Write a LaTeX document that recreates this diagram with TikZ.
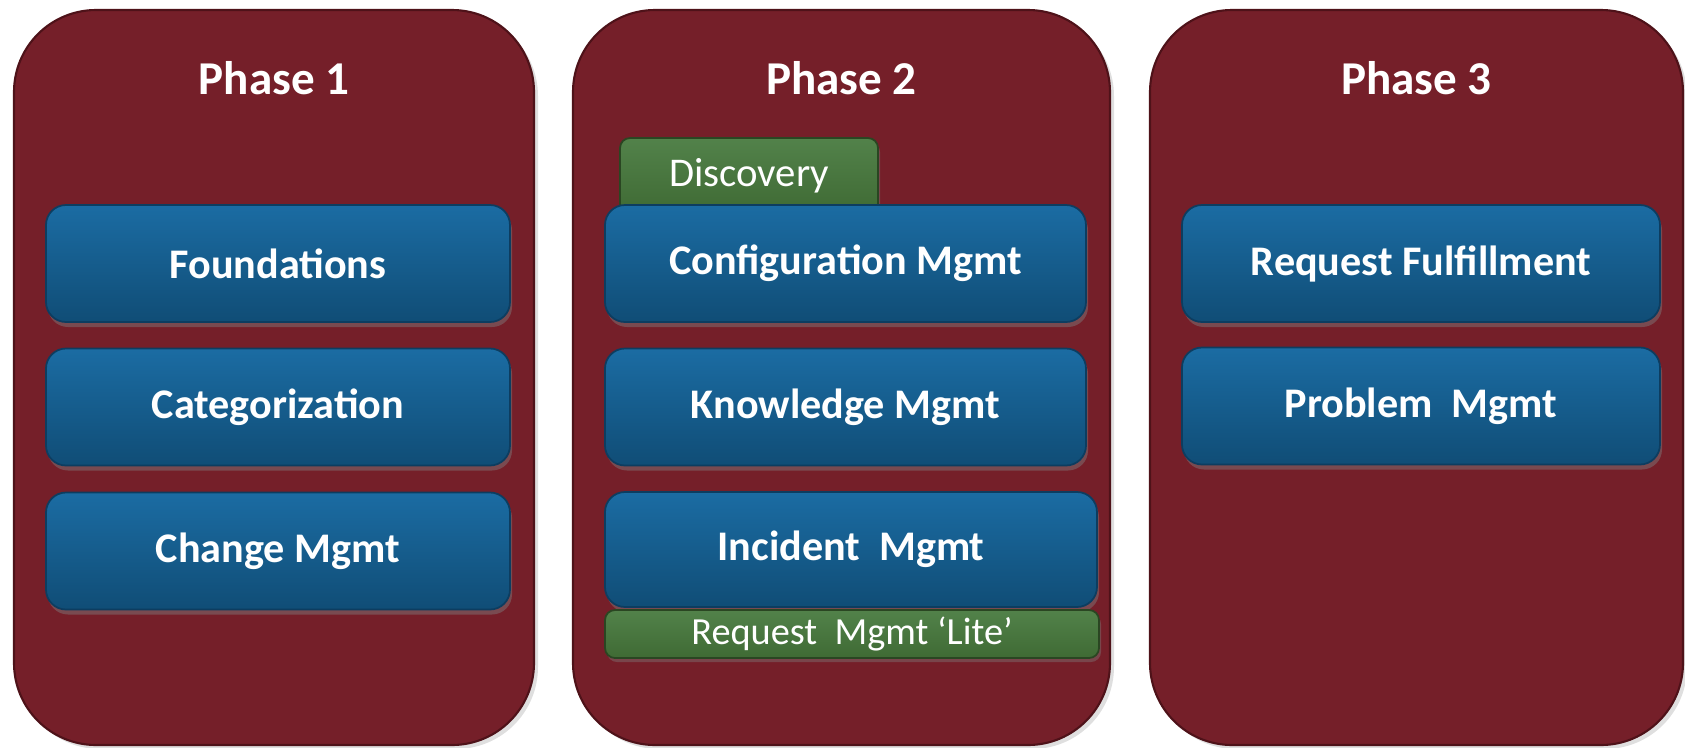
\documentclass[tikz,border=0pt]{standalone}
\usepackage{fontspec}
\setmainfont{Carlito}
\usepackage{tikz}
\usetikzlibrary{shadows}

\definecolor{phasered}{HTML}{751F29}
\definecolor{phaseedge}{HTML}{4E1219}
\definecolor{bluetop}{HTML}{1B6CA3}
\definecolor{bluemid}{HTML}{146398}
\definecolor{bluebot}{HTML}{104D76}
\definecolor{blueedge}{HTML}{0D3D60}
\definecolor{greentop}{HTML}{52824A}
\definecolor{greenbot}{HTML}{3F6A34}
\definecolor{greenedge}{HTML}{2A4622}

\begin{document}
\begin{tikzpicture}
\tikzstyle{every node}+=[inner sep=0pt]
\tikzstyle{phasebox}=[rectangle, rounded corners=0.82cm, fill=phasered, draw=phaseedge, line width=0.6pt,
  minimum height=7.35cm, drop shadow={shadow xshift=0.04cm, shadow yshift=-0.04cm, opacity=0.25}]
\tikzstyle{phasetitle}=[text=white, font=\fontsize{13.4}{15}\selectfont\bfseries]
\tikzstyle{procbox}=[rectangle, rounded corners=0.2cm, top color=bluetop, middle color=bluemid, bottom color=bluebot,
  draw=blueedge, line width=0.5pt, text=white, font=\fontsize{12}{14}\selectfont\bfseries,
  drop shadow={shadow xshift=0.02cm, shadow yshift=-0.05cm, opacity=0.45}]
\tikzstyle{addonbox}=[rectangle, rounded corners=0.1cm, top color=greentop, bottom color=greenbot,
  draw=greenedge, line width=0.5pt, text=white, font=\fontsize{11.3}{13}\selectfont,
  drop shadow={shadow xshift=0.02cm, shadow yshift=-0.04cm, opacity=0.4}]
\useasboundingbox (0,0) rectangle (16.85,-7.47);
\node [phasebox, minimum width=5.20cm] (phaseone) at (2.74,-3.775) {};
\node [phasebox, minimum width=5.37cm] (phasetwo) at (8.415,-3.775) {};
\node [phasebox, minimum width=5.33cm] (phasethree) at (14.165,-3.775) {};
\node [phasetitle] (ttlone) at (2.74,-0.78) {Phase 1};
\node [phasetitle] (ttltwo) at (8.415,-0.78) {Phase 2};
\node [phasetitle] (ttlthree) at (14.165,-0.78) {Phase 3};
\node [procbox, minimum width=4.64cm, minimum height=1.17cm] (found) at (2.78,-2.635) {Foundations};
\node [procbox, minimum width=4.64cm, minimum height=1.17cm] (categ) at (2.78,-4.07) {Categorization};
\node [procbox, minimum width=4.64cm, minimum height=1.17cm] (change) at (2.78,-5.51) {Change Mgmt};
\node [addonbox, minimum width=2.58cm, minimum height=0.76cm, font=\fontsize{11.6}{13}\selectfont] (discovery) at (7.49,-1.76) {Discovery};
\node [procbox, minimum width=4.81cm, minimum height=1.17cm] (config) at (8.455,-2.635) {Configuration Mgmt};
\node [procbox, minimum width=4.81cm, minimum height=1.17cm] (knowledge) at (8.455,-4.07) {Knowledge Mgmt};
\node [procbox, minimum width=4.92cm, minimum height=1.15cm] (incident) at (8.51,-5.495) {Incident\ \ Mgmt};
\node [addonbox, minimum width=4.94cm, minimum height=0.48cm, font=\fontsize{10.9}{13}\selectfont] (reqlite) at (8.52,-6.34) {Request\ \ Mgmt ‘Lite’};
\node [procbox, minimum width=4.78cm, minimum height=1.17cm] (reqful) at (14.21,-2.635) {Request Fulfillment};
\node [procbox, minimum width=4.78cm, minimum height=1.17cm] (problem) at (14.21,-4.06) {Problem\ \ Mgmt};
\end{tikzpicture}
\end{document}
